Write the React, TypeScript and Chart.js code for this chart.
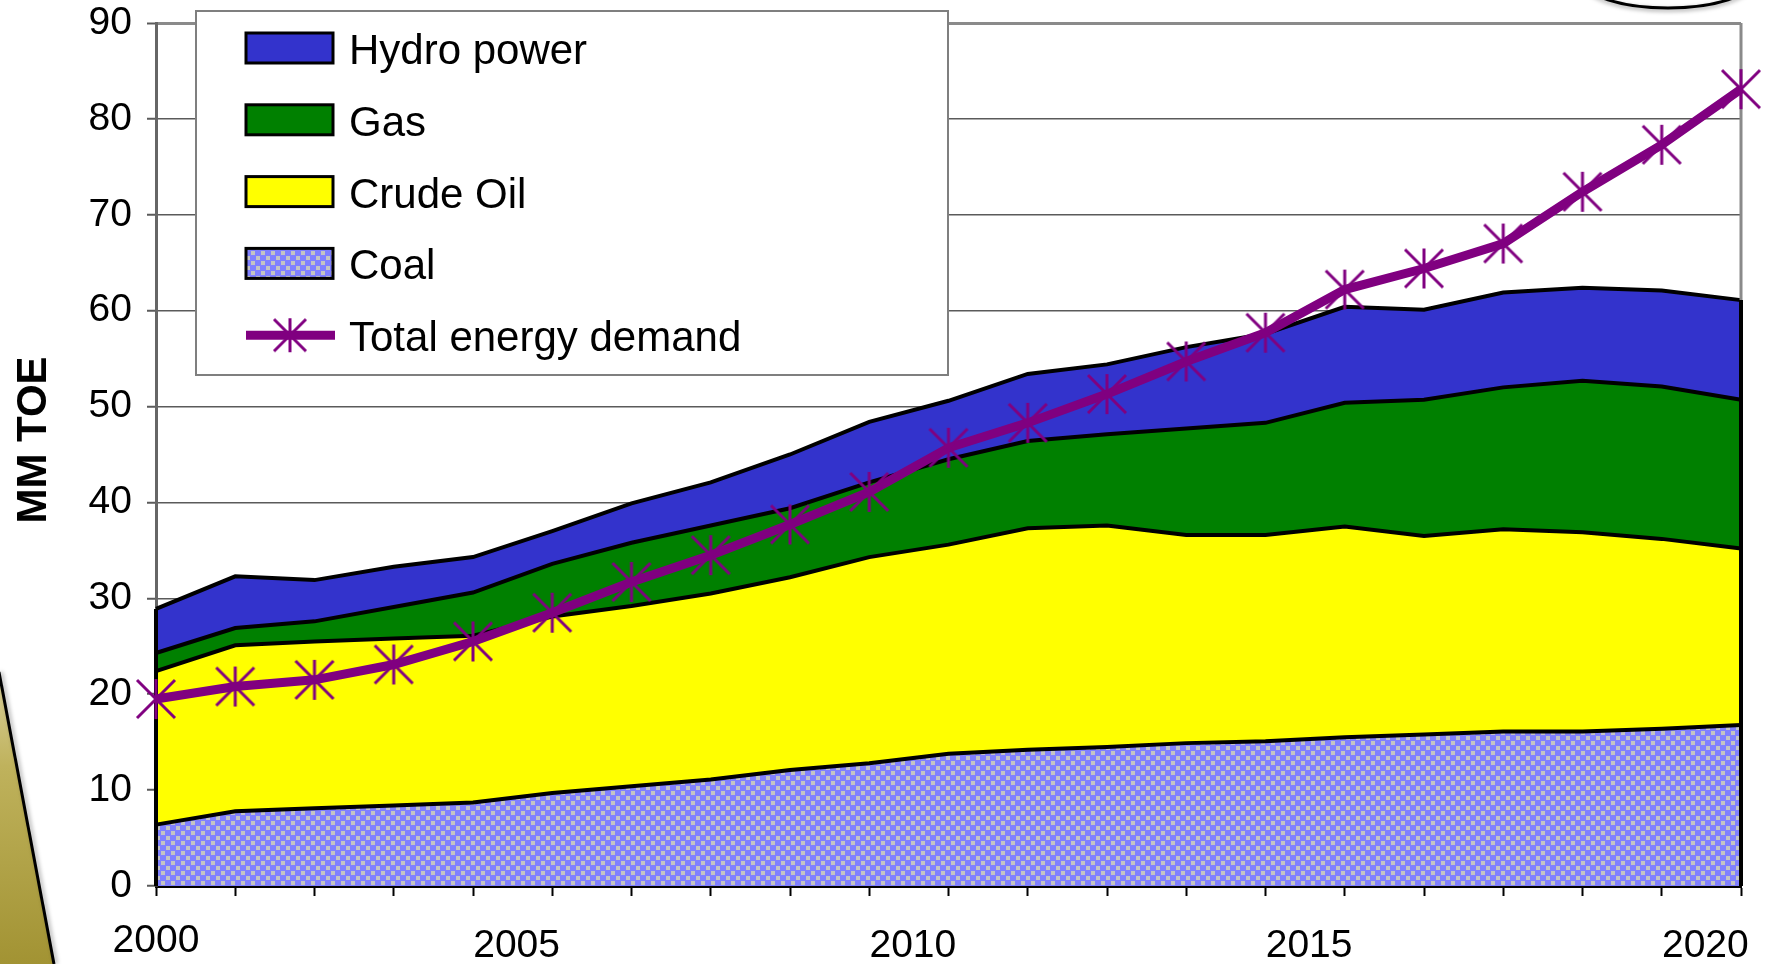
import React, { useEffect, useRef } from 'react';
import { Chart, registerables } from 'chart.js';

Chart.register(...registerables);

// ---------- data ----------
const YEARS = [
  '2000', '2001', '2002', '2003', '2004', '2005', '2006', '2007', '2008', '2009', '2010',
  '2011', '2012', '2013', '2014', '2015', '2016', '2017', '2018', '2019', '2020',
];
const COAL = [6.4, 7.8, 8.1, 8.4, 8.7, 9.7, 10.4, 11.1, 12.1, 12.8, 13.8, 14.2, 14.5, 14.9, 15.1, 15.5, 15.8, 16.1, 16.1, 16.4, 16.8];
const CRUDE_OIL = [16.0, 17.3, 17.4, 17.4, 17.4, 18.4, 18.8, 19.4, 20.1, 21.5, 21.8, 23.1, 23.1, 21.7, 21.5, 22.0, 20.7, 21.1, 20.8, 19.8, 18.4];
const GAS = [1.9, 1.8, 2.1, 3.3, 4.5, 5.5, 6.6, 7.1, 7.2, 7.8, 8.9, 9.1, 9.5, 11.1, 11.7, 12.9, 14.2, 14.8, 15.8, 15.9, 15.5];
const HYDRO = [4.6, 5.4, 4.3, 4.2, 3.7, 3.4, 4.1, 4.5, 5.6, 6.3, 6.1, 7.0, 7.3, 8.5, 9.3, 10.0, 9.4, 9.9, 9.7, 10.0, 10.4];
const TOTAL = [19.5, 20.8, 21.5, 23.1, 25.5, 28.5, 31.7, 34.5, 37.7, 41.1, 45.7, 48.3, 51.3, 54.7, 57.7, 62.2, 64.4, 67.0, 72.4, 77.3, 83.1];

const X_TICK_LABELS = ['2000', '2005', '2010', '2015', '2020'];
const Y_MIN = 0;
const Y_MAX = 90;
const Y_STEP = 10;
const Y_TITLE = 'MM TOE';
const LEGEND_LABELS = ['Hydro power', 'Gas', 'Crude Oil', 'Coal', 'Total energy demand'];

// ---------- styles ----------
const FONT = '"Liberation Sans", Arial, Helvetica, sans-serif';
const HYDRO_COLOR = '#3333cc';
const GAS_COLOR = '#008000';
const OIL_COLOR = '#ffff00';
const TOTAL_COLOR = '#800080';

function makeCoalPattern(): CanvasPattern | string {
  const c = document.createElement('canvas');
  c.width = 10;
  c.height = 10;
  const g = c.getContext('2d');
  if (!g) return '#8080ff';
  g.fillStyle = '#8080ff';
  g.fillRect(0, 0, 10, 10);
  g.fillStyle = '#c4c4c4';
  g.fillRect(1, 1, 4, 4);
  g.fillRect(6, 6, 4, 4);
  const p = g.createPattern(c, 'repeat');
  return p || '#8080ff';
}

function makeAsterisk(half: number, lw: number): HTMLCanvasElement {
  const size = half * 2 + 4;
  const c = document.createElement('canvas');
  c.width = size;
  c.height = size;
  const g = c.getContext('2d');
  if (g) {
    const h = size / 2;
    g.strokeStyle = TOTAL_COLOR;
    g.lineWidth = lw;
    g.beginPath();
    g.moveTo(h, h - half - 1);
    g.lineTo(h, h + half + 1);
    g.moveTo(h - half, h - half);
    g.lineTo(h + half, h + half);
    g.moveTo(h + half, h - half);
    g.lineTo(h - half, h + half);
    g.stroke();
  }
  return c;
}

export default function App() {
  const canvasRef = useRef<HTMLCanvasElement | null>(null);

  useEffect(() => {
    const canvas = canvasRef.current;
    if (!canvas) return;
    const coalPattern = makeCoalPattern();
    const marker = makeAsterisk(19, 3);
    const legendMarker = makeAsterisk(16, 3);

    const decorPlugin = {
      id: 'decor',
      beforeDraw(chart: any) {
        const ctx = chart.ctx as CanvasRenderingContext2D;
        ctx.save();
        ctx.fillStyle = '#ffffff';
        ctx.fillRect(0, 0, chart.width, chart.height);
        // slide wedge bottom-left
        const grad = ctx.createLinearGradient(0, 660, 0, 964);
        grad.addColorStop(0, '#ddd4a4');
        grad.addColorStop(0.35, '#bfb25c');
        grad.addColorStop(1, '#a29333');
        ctx.fillStyle = grad;
        ctx.beginPath();
        ctx.moveTo(0, 677);
        ctx.lineTo(54, 964);
        ctx.lineTo(0, 964);
        ctx.closePath();
        ctx.fill();
        ctx.shadowColor = 'rgba(0,0,0,0.35)';
        ctx.shadowBlur = 4;
        ctx.shadowOffsetX = 2;
        ctx.strokeStyle = '#000';
        ctx.lineWidth = 3;
        ctx.beginPath();
        ctx.moveTo(-1, 672);
        ctx.lineTo(54, 964);
        ctx.stroke();
        // ellipse top-right
        ctx.shadowOffsetX = 0;
        ctx.shadowOffsetY = 2;
        ctx.beginPath();
        ctx.ellipse(1668, -20, 85, 28, 0, 0, Math.PI * 2);
        ctx.stroke();
        ctx.restore();
      },
    };

    const edgePlugin = {
      id: 'edges',
      afterDatasetDraw(chart: any, args: any) {
        if (args.index !== 1) return;
        const ctx = chart.ctx as CanvasRenderingContext2D;
        const { left, right, top, bottom } = chart.chartArea;
        const pts = chart.getDatasetMeta(4).data;
        const first = pts[0];
        const last = pts[pts.length - 1];
        ctx.save();
        ctx.lineWidth = 3;
        ctx.strokeStyle = '#8a8a8a';
        ctx.beginPath();
        ctx.moveTo(right, top);
        ctx.lineTo(right, last.y);
        ctx.stroke();
        ctx.strokeStyle = '#000';
        ctx.lineWidth = 4;
        ctx.beginPath();
        ctx.moveTo(left, bottom);
        ctx.lineTo(left, first.y);
        ctx.moveTo(right, bottom);
        ctx.lineTo(right, last.y);
        ctx.stroke();
        ctx.restore();
      },
    };

    const overlayPlugin = {
      id: 'overlay',
      afterDraw(chart: any) {
        const ctx = chart.ctx as CanvasRenderingContext2D;
        const xs = chart.scales.x;
        const { bottom } = chart.chartArea;
        ctx.save();
        // x labels
        ctx.fillStyle = '#000';
        ctx.font = `39px ${FONT}`;
        ctx.textAlign = 'center';
        ctx.textBaseline = 'alphabetic';
        const step = xs.getPixelForValue(1) - xs.getPixelForValue(0);
        X_TICK_LABELS.forEach((lab) => {
          const idx = YEARS.indexOf(lab);
          const first = idx === 0;
          const x = xs.getPixelForValue(idx) - (first ? 0 : 0.45 * step);
          ctx.fillText(lab, x, bottom + (first ? 66 : 71));
        });
        // y title
        ctx.save();
        ctx.translate(34, 440);
        ctx.rotate(-Math.PI / 2);
        ctx.font = `bold 42px ${FONT}`;
        ctx.textBaseline = 'middle';
        ctx.textAlign = 'center';
        ctx.fillText(Y_TITLE, 0, 0);
        ctx.restore();

        // legend
        const bx = 196, by = 11, bw = 752, bh = 364;
        ctx.fillStyle = '#fff';
        ctx.fillRect(bx, by, bw, bh);
        ctx.strokeStyle = '#7f7f7f';
        ctx.lineWidth = 2;
        ctx.strokeRect(bx, by, bw, bh);
        const fills: any[] = [HYDRO_COLOR, GAS_COLOR, OIL_COLOR, coalPattern];
        const rowGap = 71.8;
        const firstCenter = 48;
        ctx.font = `42px ${FONT}`;
        ctx.textAlign = 'left';
        ctx.textBaseline = 'alphabetic';
        LEGEND_LABELS.forEach((lab, i) => {
          const cy = firstCenter + i * rowGap;
          if (i < 4) {
            ctx.fillStyle = fills[i];
            ctx.fillRect(246, cy - 15, 87, 30);
            ctx.strokeStyle = '#000';
            ctx.lineWidth = 3;
            ctx.strokeRect(246, cy - 15, 87, 30);
          } else {
            ctx.strokeStyle = TOTAL_COLOR;
            ctx.lineWidth = 9;
            ctx.beginPath();
            ctx.moveTo(246, cy);
            ctx.lineTo(335, cy);
            ctx.stroke();
            ctx.drawImage(legendMarker, 290 - legendMarker.width / 2, cy - legendMarker.height / 2);
          }
          ctx.fillStyle = '#000';
          ctx.fillText(lab, 349, cy + 16);
        });
        ctx.restore();
      },
    };

    const areaCommon = {
      stack: 'energy',
      order: 1,
      borderColor: '#000',
      borderWidth: 4,
      pointRadius: 0,
      pointHoverRadius: 0,
      tension: 0,
    };

    const chart = new Chart(canvas, {
      type: 'line',
      data: {
        labels: YEARS,
        datasets: [
          {
            label: LEGEND_LABELS[4],
            data: TOTAL,
            stack: 'total',
            order: 0,
            borderColor: TOTAL_COLOR,
            backgroundColor: TOTAL_COLOR,
            borderWidth: 9,
            pointStyle: marker as any,
            pointRadius: 19,
            fill: false,
            tension: 0,
            clip: false as any,
          },
          { ...areaCommon, label: LEGEND_LABELS[3], data: COAL, fill: 'origin', backgroundColor: coalPattern as any },
          { ...areaCommon, label: LEGEND_LABELS[2], data: CRUDE_OIL, fill: '-1', backgroundColor: OIL_COLOR },
          { ...areaCommon, label: LEGEND_LABELS[1], data: GAS, fill: '-1', backgroundColor: GAS_COLOR },
          { ...areaCommon, label: LEGEND_LABELS[0], data: HYDRO, fill: '-1', backgroundColor: HYDRO_COLOR },
        ] as any,
      },
      options: {
        responsive: false,
        animation: false,
        events: [],
        layout: { autoPadding: false, padding: { left: 0, top: 23, right: 25, bottom: 0 } },
        plugins: {
          legend: { display: false },
          tooltip: { enabled: false },
        },
        scales: {
          x: {
            type: 'category',
            offset: false,
            z: 1,
            grid: { drawOnChartArea: false, drawTicks: true, tickLength: 10, tickColor: '#000', tickWidth: 2 },
            border: { color: '#000', width: 3 },
            ticks: { display: false, autoSkip: false },
            afterFit: (s: any) => {
              s.height = 78;
              s.paddingLeft = 0;
              s.paddingRight = 0;
            },
          },
          y: {
            stacked: true,
            min: Y_MIN,
            max: Y_MAX,
            ticks: {
              stepSize: Y_STEP,
              color: '#000',
              padding: 15,
              font: { family: FONT, size: 39 },
            },
            grid: {
              color: (c: any) => (c.tick && c.tick.value === Y_MAX ? '#8a8a8a' : '#5a5a5a'),
              lineWidth: (c: any) => (c.tick && c.tick.value === Y_MAX ? 3 : 1.5),
              tickLength: 9,
              tickColor: '#5a5a5a',
              tickWidth: 2,
            },
            border: { color: '#666', width: 3 },
            afterFit: (s: any) => {
              s.width = 156;
              s.paddingTop = 0;
              s.paddingBottom = 0;
            },
          },
        },
      } as any,
      plugins: [decorPlugin, edgePlugin, overlayPlugin],
    });

    return () => chart.destroy();
  }, []);

  return (
    <div style={{ position: 'absolute', left: 0, top: 0, width: 1766, height: 964, background: '#fff' }}>
      <canvas ref={canvasRef} width={1766} height={964} style={{ display: 'block', width: 1766, height: 964 }} />
    </div>
  );
}
